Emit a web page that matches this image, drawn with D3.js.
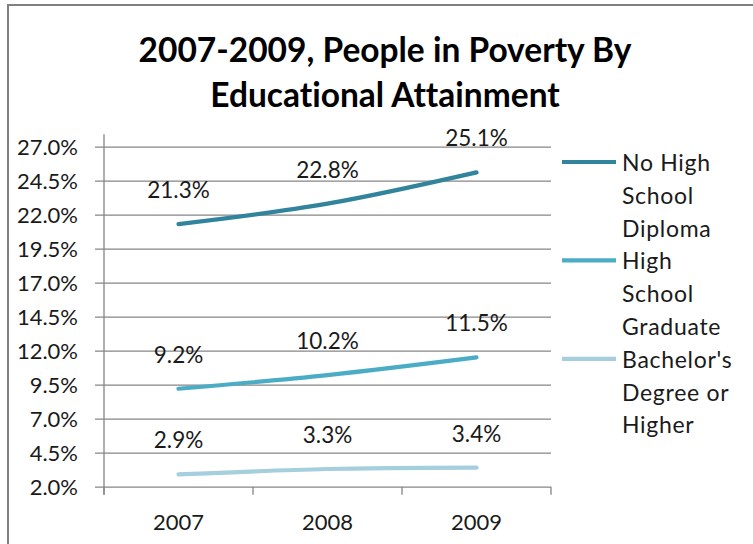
<!DOCTYPE html>
<html>
<head>
<meta charset="utf-8">
<script src="https://cdn.jsdelivr.net/npm/d3@7"></script>
<style>
  html, body { margin: 0; padding: 0; background: #fff; }
  svg { display: block; }
  text { font-family: Lato, "Noto Sans", sans-serif; fill: #1a1a1a; font-variant-ligatures: none; }
</style>
</head>
<body>
<svg id="chart" width="753" height="544"></svg>
<script>
// Poverty rate by educational attainment, 2007-2009
const years = ["2007", "2008", "2009"];
const seriesNames = ["No High School Diploma", "High School Graduate", "Bachelor's Degree or Higher"];
const legendLines = [["No High", "School", "Diploma"], ["High", "School", "Graduate"], ["Bachelor's", "Degree or", "Higher"]];
const noDiploma = [21.3, 22.8, 25.1];
const hsGraduate = [9.2, 10.2, 11.5];
const bachelors = [2.9, 3.3, 3.4];
const yTicks = [2.0, 4.5, 7.0, 9.5, 12.0, 14.5, 17.0, 19.5, 22.0, 24.5, 27.0];
const colors = ["#31849B", "#4BACC6", "#A5CFDD"];

const series = [noDiploma, hsGraduate, bachelors].map((vals, i) => ({
  name: seriesNames[i], values: vals, color: colors[i], legend: legendLines[i]
}));

const svg = d3.select("#chart");

// outer frame
svg.append("path")
  .attr("d", "M8,544 V5 H753")
  .attr("fill", "none").attr("stroke", "#808080").attr("stroke-width", 2);

// title
const title = svg.append("text")
  .attr("text-anchor", "middle")
  .style("font-weight", "bold").style("font-size", "33.5px").style("fill", "#000");
title.append("tspan").attr("x", 385).attr("y", 62).text("2007-2009, People in Poverty By");
title.append("tspan").attr("x", 385).attr("y", 107).text("Educational Attainment");

const plotLeft = 104, plotRight = 551, plotTop = 134.3, plotBottom = 486.7;

const x = d3.scaleBand().domain(years).range([plotLeft, plotRight]).paddingInner(0).paddingOuter(0);
const y = d3.scaleLinear().domain([2, 27.9]).range([plotBottom, plotTop]);

// gridlines with left tick marks
const yAxis = d3.axisLeft(y).tickValues(yTicks).tickFormat(d => d.toFixed(1) + "%")
  .tickSize(-(plotRight - plotLeft)).tickSizeOuter(0).tickPadding(0);
const gy = svg.append("g").attr("transform", `translate(${plotLeft},0)`).call(yAxis);
gy.select(".domain").remove();
gy.selectAll(".tick line").attr("x1", -9).attr("stroke", "#868686").attr("stroke-width", 1.3);
gy.selectAll(".tick text").attr("x", -26).attr("dy", "0.36em")
  .style("font-size", "22px").style("fill", "#1a1a1a").style("font-family", "Lato, 'Noto Sans', sans-serif");

// vertical axis line
svg.append("line").attr("x1", plotLeft).attr("x2", plotLeft).attr("y1", plotTop).attr("y2", plotBottom + 8)
  .attr("stroke", "#868686").attr("stroke-width", 1.3);

// category axis: boundary ticks, labels under band centres
const bounds = years.map(d => x(d) + x.bandwidth()).concat([plotLeft]);
svg.selectAll("line.xtick").data(bounds).join("line").attr("class", "xtick")
  .attr("x1", d => d).attr("x2", d => d).attr("y1", plotBottom).attr("y2", plotBottom + 8)
  .attr("stroke", "#868686").attr("stroke-width", 1.3);
svg.selectAll("text.xlabel").data(years).join("text").attr("class", "xlabel")
  .attr("x", d => x(d) + x.bandwidth() / 2).attr("y", 530)
  .attr("text-anchor", "middle").style("font-size", "22px").text(d => d);

// smoothed series lines
const line = d3.line()
  .x((d, i) => x(years[i]) + x.bandwidth() / 2)
  .y(d => y(d))
  .curve(d3.curveCatmullRom.alpha(0.5));

svg.selectAll("path.series").data(series).join("path").attr("class", "series")
  .attr("d", s => line(s.values))
  .attr("fill", "none").attr("stroke", s => s.color)
  .attr("stroke-width", 4.2).attr("stroke-linecap", "round");

// value labels above each point
series.forEach(s => {
  svg.selectAll(null).data(s.values).join("text")
    .attr("x", (d, i) => x(years[i]) + x.bandwidth() / 2)
    .attr("y", d => y(d) - 26)
    .attr("text-anchor", "middle").style("font-size", "22.5px")
    .text(d => d.toFixed(1) + "%");
});

// legend
const lgTop = 171, lgStep = 32.8;
series.forEach((s, i) => {
  const base = lgTop + i * 3 * lgStep;
  svg.append("line").attr("x1", 562).attr("x2", 616)
    .attr("y1", base - 9).attr("y2", base - 9)
    .attr("stroke", s.color).attr("stroke-width", 4.2);
  s.legend.forEach((t, j) => {
    svg.append("text").attr("x", 622).attr("y", base + j * lgStep)
      .style("font-size", "23px").style("letter-spacing", "0.7px").text(t);
  });
});
</script>
</body>
</html>
